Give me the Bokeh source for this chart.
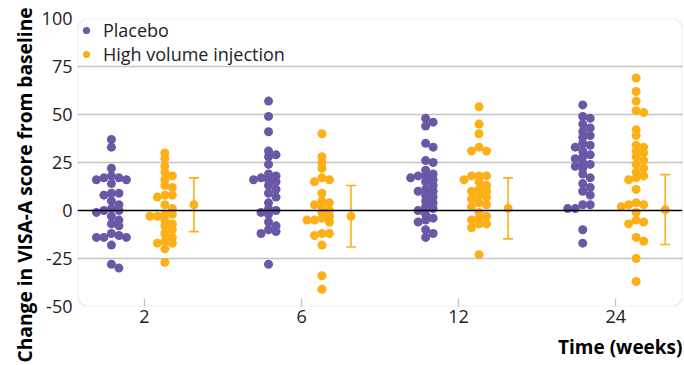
import math
from bokeh.plotting import figure
from bokeh.models import (Range1d, FixedTicker, Span, BoxAnnotation, Title,
                          Legend, LegendItem, ColumnDataSource)
from bokeh.embed import file_html
from bokeh.resources import INLINE

# ---------------- data ----------------
weeks = ["2", "6", "12", "24"]

placebo_wk2 = [37, 33, 22, 18, 17, 17, 16, 16, 14, 9, 9, 8, 5, 3, 1, 0, 0, -1,
               -3, -5, -7, -8, -12, -13, -14, -14, -14, -18, -28, -30]
placebo_wk6 = [57, 49, 41, 31, 29, 28, 24, 19, 18, 17, 16, 16, 15, 13, 11, 9, 7,
               4, 1, 0, -1, -2, -6, -8, -10, -11, -12, -28]
placebo_wk12 = [48, 46, 44, 35, 33, 26, 25, 21, 19, 18, 18, 17, 16, 15, 13, 11,
                10, 10, 8, 7, 5, 4, 2, 1, 0, -2, -4, -5, -6, -10, -12, -14]
placebo_wk24 = [55, 49, 48, 45, 43, 41, 39, 38, 35, 34, 33, 31, 29, 28, 27, 25,
                24, 23, 22, 19, 17, 14, 12, 10, 8, 3, 3, 1, 1, -10, -17]

hvi_wk2 = [30, 27, 23, 20, 18, 16, 13, 12, 8, 8, 7, 3, 1, -2, -2, -3, -3, -5,
           -7, -8, -10, -12, -14, -16, -17, -17, -20, -27]
hvi_wk6 = [40, 28, 25, 22, 17, 16, 15, 9, 5, 4, 3, 2, 0, -1, -3, -4, -5, -5,
           -6, -12, -12, -13, -18, -34, -41]
hvi_wk12 = [54, 45, 40, 33, 31, 31, 18, 18, 18, 16, 15, 13, 11, 10, 10, 8, 7, 6,
            4, 3, 2, -1, -3, -4, -5, -7, -7, -9, -23]
hvi_wk24 = [69, 62, 57, 52, 51, 42, 39, 34, 33, 31, 30, 28, 26, 24, 22, 20, 18,
            17, 16, 11, 4, 3, 3, 2, -1, -5, -6, -7, -14, -16, -25, -37]

hvi_mean = [3, -3, 1.2, 0.4]
hvi_lower = [-11, -19, -14.8, -17.7]
hvi_upper = [17, 13, 17, 18.7]

y_ticks = [-50, -25, 0, 25, 50, 75, 100]
grid_values = [-25, 25, 50, 75]

placebo = [placebo_wk2, placebo_wk6, placebo_wk12, placebo_wk24]
hvi = [hvi_wk2, hvi_wk6, hvi_wk12, hvi_wk24]

PURPLE = "#6a58a6"
ORANGE = "#fcaf17"
FONT = "Open Sans"

# ---------------- layout constants ----------------
W, H = 684, 365
ML, MT, MR = 77, 18, 2
MB = H - MT - 288
X0, X1 = 0.574, 4.425
Y0, Y1 = -50, 100
px_x = (W - ML - MR) / (X1 - X0)
px_y = 288 / (Y1 - Y0)

OFF_P, OFF_H, OFF_E = -0.21, 0.13, 0.315


def swarm(vals, center, step_px=7.5, dmin=5.5):
    """Simple beeswarm: place points in discrete columns avoiding overlap."""
    order = sorted(vals, reverse=True)
    placed = []
    cands = [0, 1, -1, -2, 2, -3, 3]
    for v in order:
        best, best_d = None, -1
        for c in cands:
            xp = c * step_px
            yp = v * px_y
            d = min([math.hypot(xp - a, yp - b) for a, b in placed] or [1e9])
            if d >= dmin:
                best = xp
                break
            if d > best_d:
                best_d, best = d, xp
        placed.append((best, v * px_y))
    xs = [center + a / px_x for a, _ in placed]
    ys = [b / px_y for _, b in placed]
    return xs, ys


px, py, hx, hy = [], [], [], []
for i in range(len(weeks)):
    a, b = swarm(placebo[i], i + 1 + OFF_P)
    px += a; py += b
    a, b = swarm(hvi[i], i + 1 + OFF_H)
    hx += a; hy += b

p = figure(width=W, height=H, output_backend="svg", toolbar_location=None,
           x_range=Range1d(X0, X1), y_range=Range1d(Y0, Y1),
           min_border_left=ML, min_border_right=MR, min_border_top=MT,
           min_border_bottom=MB)
p.outline_line_color = None
p.background_fill_color = "white"
p.border_fill_color = "white"

# grid
p.xgrid.visible = False
p.ygrid.ticker = FixedTicker(ticks=grid_values)
p.ygrid.grid_line_color = "#c4c4c4"
p.ygrid.grid_line_width = 1.3
p.add_layout(Span(location=0, dimension="width", line_color="black",
                  line_width=1.3))

# rounded frame
p.add_layout(BoxAnnotation(fill_alpha=0, line_color="#c4c4c4", line_width=1.6,
                           border_radius=11, level="underlay"))

# axes
p.yaxis.ticker = FixedTicker(ticks=y_ticks)
p.yaxis.major_label_overrides = {t: str(t) for t in y_ticks}
p.yaxis.axis_line_color = None
p.yaxis.major_tick_line_color = None
p.yaxis.minor_tick_line_color = None
p.yaxis.major_tick_in = 0
p.yaxis.major_tick_out = 0
p.yaxis.major_label_standoff = 5
p.yaxis.major_label_text_font = FONT
p.yaxis.major_label_text_font_size = "18px"
p.yaxis.major_label_text_color = "#222222"

p.xaxis.ticker = FixedTicker(ticks=[1, 2, 3, 4])
p.xaxis.major_label_overrides = {i + 1: w for i, w in enumerate(weeks)}
p.xaxis.axis_line_color = None
p.xaxis.minor_tick_line_color = None
p.xaxis.major_tick_in = 8
p.xaxis.major_tick_out = 0
p.xaxis.major_tick_line_color = "#c4c4c4"
p.xaxis.major_tick_line_width = 1.3
p.xaxis.major_label_standoff = 3
p.xaxis.major_label_text_font = FONT
p.xaxis.major_label_text_font_size = "18px"
p.xaxis.major_label_text_color = "#222222"

# points
rp = p.scatter(px, py, size=9, color=PURPLE, line_color=None)
rh = p.scatter(hx, hy, size=9, color=ORANGE, line_color=None)

# error bars
ex = [i + 1 + OFF_E for i in range(len(weeks))]
src = ColumnDataSource(dict(x=ex, m=hvi_mean, lo=hvi_lower, hi=hvi_upper))
p.segment(x0="x", y0="lo", x1="x", y1="hi", source=src, line_color=ORANGE,
          line_width=1.6)
p.scatter(x="x", y="lo", source=src, marker="dash", size=10,
          line_color=ORANGE, line_width=1.6)
p.scatter(x="x", y="hi", source=src, marker="dash", size=10,
          line_color=ORANGE, line_width=1.6)
p.scatter(x="x", y="m", source=src, size=9, color=ORANGE, line_color=None)

# legend
legend = Legend(items=[LegendItem(label="Placebo", renderers=[rp]),
                       LegendItem(label="High volume injection", renderers=[rh])],
                location="top_left", margin=0, padding=3, spacing=-4,
                glyph_width=18, glyph_height=20, label_standoff=8,
                label_text_font=FONT, label_text_font_size="18px",
                label_text_color="#222222", border_line_color=None,
                background_fill_alpha=0)
p.add_layout(legend)

# axis titles
p.add_layout(Title(text="Time (weeks)", align="right", text_font=FONT,
                   text_font_style="bold", text_font_size="19px",
                   text_color="black", standoff=12), "below")
p.add_layout(Title(text="Change in VISA-A score from baseline", align="left",
                   offset=-56, text_font=FONT, text_font_style="bold",
                   text_font_size="19.2px", text_color="black", standoff=2),
             "left")

open("out.html", "w").write(file_html(p, INLINE))
